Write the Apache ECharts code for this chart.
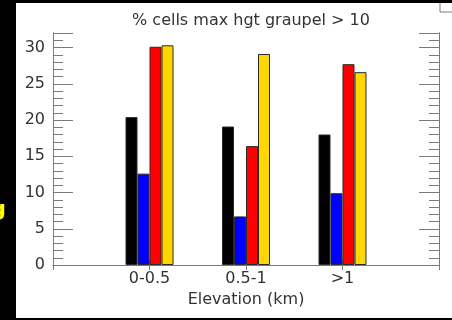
<!DOCTYPE html>
<html>
<head>
<meta charset="utf-8">
<script src="https://cdn.jsdelivr.net/npm/echarts@6/dist/echarts.min.js"></script>
<style>
  html, body { margin: 0; padding: 0; background: #000; }
  #chart { width: 452px; height: 320px; }
</style>
</head>
<body>
<div id="chart"></div>
<script>
// Elevation bins and the share of cells per run
const categories = ['0-0.5', '0.5-1', '>1'];
const blackVals = [20.4, 19.1, 18.0];
const blueVals = [12.6, 6.7, 9.9];
const redVals = [30.1, 16.4, 27.7];
const yellowVals = [30.3, 29.1, 26.6];
const yTickLabels = [0, 5, 10, 15, 20, 25, 30];

const titleText = '% cells max hgt graupel > 10';
const xName = 'Elevation (km)';

const FRAME = '#7a7a7a';
const TEXT = '#333333';
const FONT = 'DejaVu Sans';
const FS = 16;

const chart = echarts.init(document.getElementById('chart'), null, { renderer: 'canvas' });

function barSeries(vals, color) {
  return {
    type: 'bar',
    xAxisIndex: 0,
    yAxisIndex: 0,
    barWidth: 12,
    barGap: '0%',
    data: categories.map((c, i) => [i + 1, vals[i]]),
    itemStyle: { color: color, borderColor: '#2a2a2a', borderWidth: 1 },
    emphasis: { disabled: true }
  };
}

function yAx(pos, interval, len, showLabel) {
  return {
    type: 'value', position: pos, min: 0, max: 32, interval: interval,
    axisLine: { show: true, lineStyle: { color: FRAME, width: 1 } },
    axisTick: { show: true, inside: true, length: len, lineStyle: { color: FRAME, width: 1 } },
    splitLine: { show: false },
    axisLabel: {
      show: showLabel, margin: 8, color: TEXT, fontFamily: FONT, fontSize: FS,
      formatter: v => (yTickLabels.indexOf(v) >= 0 ? String(v) : '')
    }
  };
}

const option = {
  backgroundColor: '#000',
  animation: false,
  title: {
    text: titleText, left: 246, top: 8, textAlign: 'center',
    textStyle: { color: TEXT, fontFamily: FONT, fontSize: FS, fontWeight: 'normal' }
  },
  grid: { left: 53, right: 13, top: 33, bottom: 55 },
  xAxis: [
    {
      type: 'value', position: 'bottom', min: 0, max: 4, interval: 1,
      name: xName, nameLocation: 'middle', nameGap: 20,
      nameTextStyle: { color: TEXT, fontFamily: FONT, fontSize: FS },
      axisLine: { show: true, lineStyle: { color: FRAME, width: 1 } },
      axisTick: { show: true, inside: true, length: 5, lineStyle: { color: FRAME } },
      splitLine: { show: false },
      axisLabel: {
        margin: 6, color: TEXT, fontFamily: FONT, fontSize: FS,
        formatter: v => categories[v - 1] || ''
      }
    },
    {
      type: 'value', position: 'top', min: 0, max: 4, interval: 1,
      axisLine: { show: true, lineStyle: { color: FRAME, width: 1 } },
      axisTick: { show: true, inside: true, length: 5, lineStyle: { color: FRAME } },
      splitLine: { show: false },
      axisLabel: { show: false }
    }
  ],
  yAxis: [
    yAx('left', 1, 10, true),
    yAx('left', 5, 20, false),
    yAx('right', 1, 10, false),
    yAx('right', 5, 20, false)
  ],
  graphic: [
    {
      type: 'rect', z: -10, silent: true,
      shape: { x: 16, y: 3, width: 436, height: 315 },
      style: { fill: '#ffffff' }
    },
    {
      type: 'polyline', silent: true,
      shape: { points: [[440, 3], [440, 12], [452, 12]] },
      style: { stroke: FRAME, lineWidth: 1, fill: null }
    },
    {
      type: 'text', silent: true, x: 6, y: 210,
      style: { text: 'g', fill: '#ffff00', font: 'bold 22px "DejaVu Sans"', textAlign: 'right', textVerticalAlign: 'middle' }
    }
  ],
  series: [
    barSeries(blackVals, '#000000'),
    barSeries(blueVals, '#0000ff'),
    barSeries(redVals, '#ff0000'),
    barSeries(yellowVals, '#ffd700')
  ]
};

chart.setOption(option);
</script>
</body>
</html>
